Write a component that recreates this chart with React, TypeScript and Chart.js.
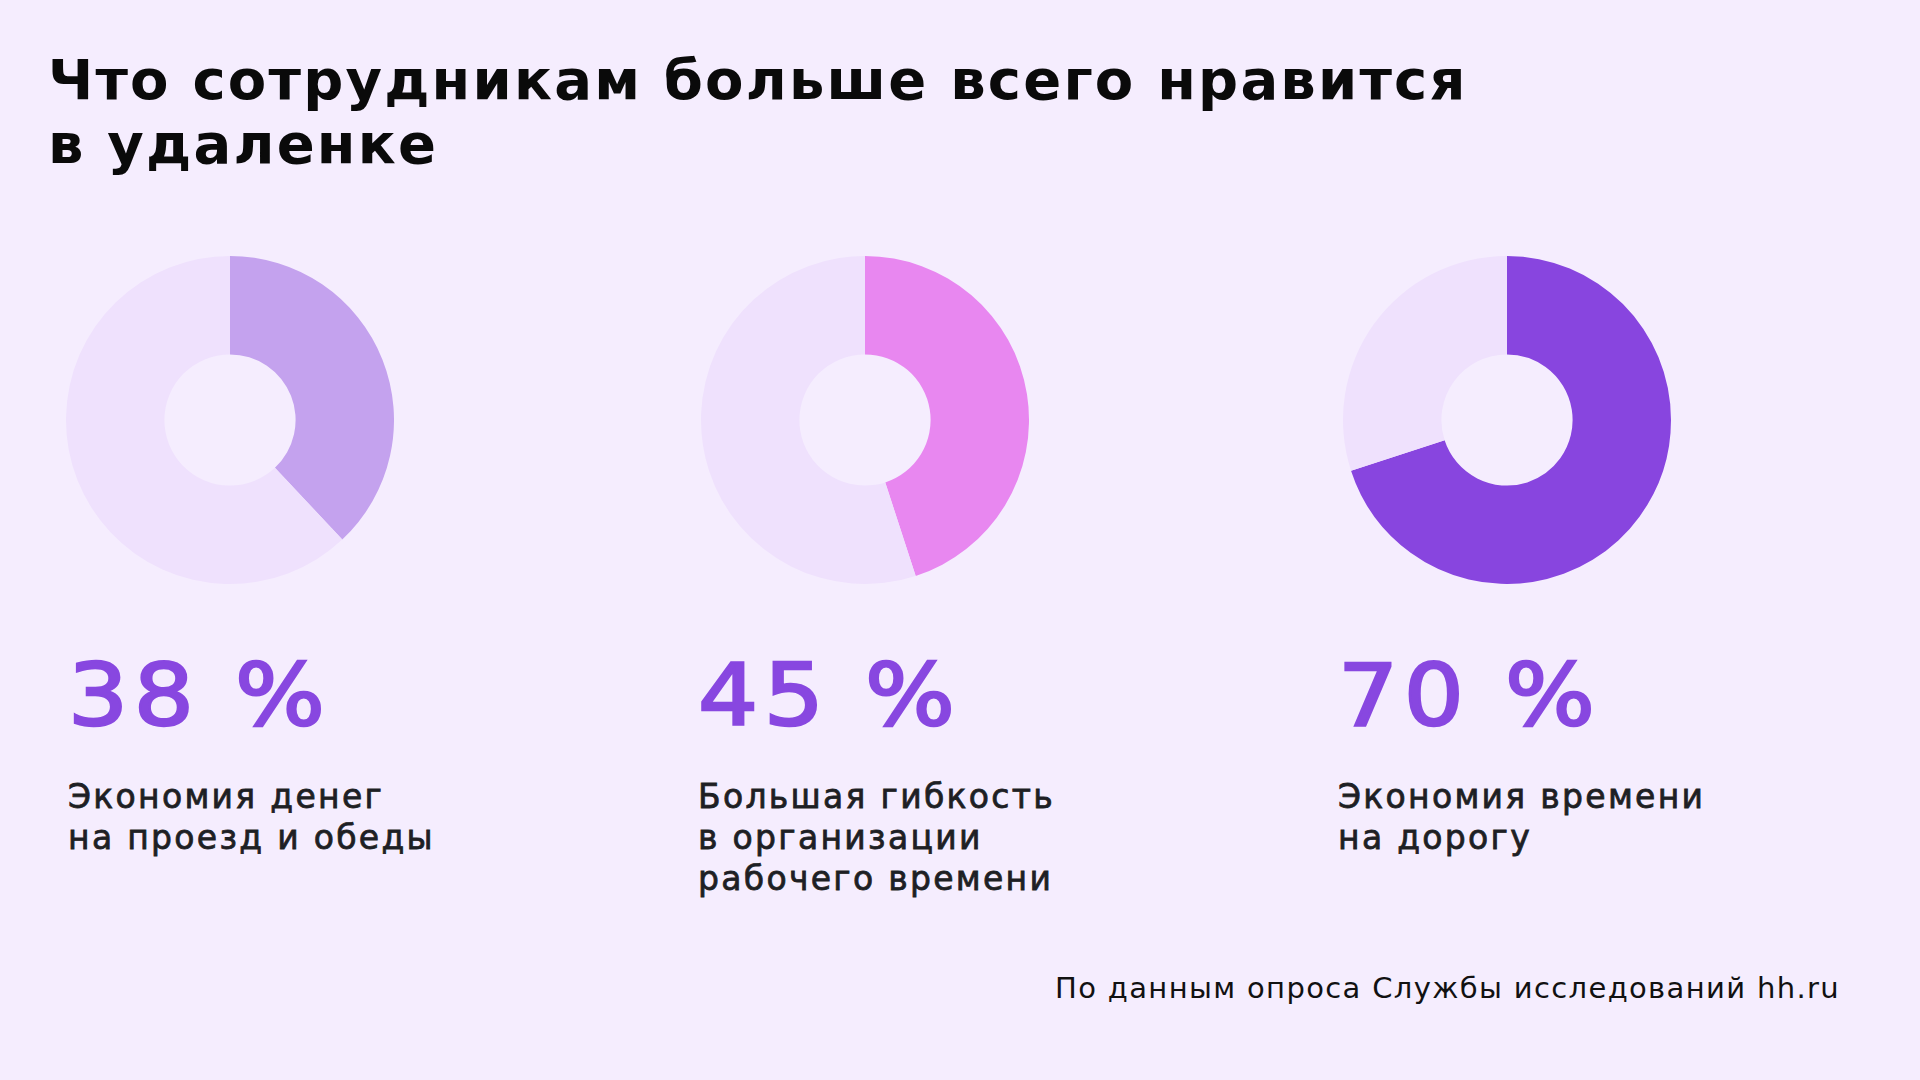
import React, { useEffect, useRef } from "react";
import { Chart, registerables } from "chart.js";

Chart.register(...registerables);

const titleLines = ["Что сотрудникам больше всего нравится", "в удаленке"];
const categories = [
  ["Экономия денег", "на проезд и обеды"],
  ["Большая гибкость", "в организации", "рабочего времени"],
  ["Экономия времени", "на дорогу"],
];
const values = [38, 45, 70];
const segmentColors = ["#C4A2EE", "#E887F0", "#8845DF"];
const trackColor = "#EFE1FD";
const bgColor = "#F5EDFE";
const source = "По данным опроса Службы исследований hh.ru";

const centersX = [230, 865, 1507];
const textLeft = [68, 698, 1338];
const FONT = "'DejaVu Sans', sans-serif";

function Donut({ value, color, cx }: { value: number; color: string; cx: number }) {
  const ref = useRef<HTMLCanvasElement>(null);
  useEffect(() => {
    if (!ref.current) return;
    const chart = new Chart(ref.current, {
      type: "doughnut",
      data: {
        labels: ["yes", "rest"],
        datasets: [
          {
            data: [value, 100 - value],
            backgroundColor: [color, trackColor],
            borderWidth: 0,
          },
        ],
      },
      options: {
        animation: false,
        responsive: false,
        cutout: "40%",
        plugins: { legend: { display: false }, tooltip: { enabled: false } },
        layout: { padding: 0 },
      },
    });
    return () => chart.destroy();
  }, [value, color]);
  return (
    <canvas
      ref={ref}
      width={328}
      height={328}
      style={{ position: "absolute", left: cx - 164, top: 256, width: 328, height: 328 }}
    />
  );
}

export default function App() {
  useEffect(() => {
    document.body.style.margin = "0";
  }, []);
  return (
    <div
      style={{
        position: "absolute",
        left: 0,
        top: 0,
        width: 1920,
        height: 1080,
        background: bgColor,
        overflow: "hidden",
        fontFamily: FONT,
      }}
    >
      <div
        style={{
          position: "absolute",
          left: 48,
          top: 48,
          fontSize: 56,
          lineHeight: "64px",
          fontWeight: 700,
          color: "#0a0a0a",
          whiteSpace: "nowrap",
          letterSpacing: 2.2,
        }}
      >
        {titleLines.map((t, i) => (
          <div key={i}>{t}</div>
        ))}
      </div>
      {values.map((v, i) => (
        <React.Fragment key={i}>
          <Donut value={v} color={segmentColors[i]} cx={centersX[i]} />
          <div
            style={{
              position: "absolute",
              left: textLeft[i],
              top: 652,
              fontSize: 86,
              lineHeight: "86px",
              color: "#8847E0",
              letterSpacing: 5,
              whiteSpace: "nowrap",
              WebkitTextStroke: "2.5px #8847E0",
              transform: "scaleX(1.1)",
              transformOrigin: "left center",
            }}
          >
            {v + " %"}
          </div>
          <div
            style={{
              position: "absolute",
              left: textLeft[i],
              top: 776,
              fontSize: 33,
              lineHeight: "41px",
              color: "#1E1F24",
              letterSpacing: 2.3,
              whiteSpace: "nowrap",
              WebkitTextStroke: "0.8px #1E1F24",
            }}
          >
            {categories[i].map((c, j) => (
              <div key={j}>{c}</div>
            ))}
          </div>
        </React.Fragment>
      ))}
      <div
        style={{
          position: "absolute",
          right: 1920 - 1840,
          top: 974,
          fontSize: 29,
          lineHeight: "29px",
          color: "#111",
          whiteSpace: "nowrap",
          letterSpacing: 1.35,
        }}
      >
        {source}
      </div>
    </div>
  );
}
